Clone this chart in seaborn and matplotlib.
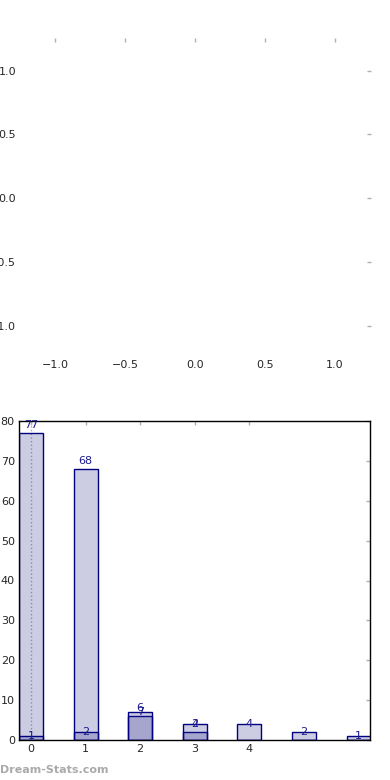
import numpy as np
import pandas as pd
import matplotlib
matplotlib.use("Agg")
import matplotlib.pyplot as plt
import matplotlib.colors as mcolors
import seaborn as sns

# data
categories = [0, 1, 2, 3, 4, 5, 6]
series_a = [77, 68, 6, 2, 0, 0, 0]
series_b = [1, 2, 7, 4, 4, 2, 1]
xtick_labels = ["0", "1", "2", "3", "4"]

sns.set_style("white")
plt.rcParams["font.family"] = ["DejaVu Sans"]

BAR_COLOR = "#2b2b8e"
EDGE = "#000080"
TEXT = "#1a1a8c"
TICK = "#b0b0b0"

fig = plt.figure(figsize=(3.9, 7.8), dpi=100)

# top panel: empty axes, no frame
ax1 = fig.add_axes([21 / 390, 1 - 355 / 780, 348 / 390, 315 / 780])
ax1.set_xlim(-1.243, 1.243)
ax1.set_ylim(-1.23, 1.24)
ax1.set_xticks([-1.0, -0.5, 0.0, 0.5, 1.0])
ax1.set_yticks([-1.0, -0.5, 0.0, 0.5, 1.0])
for s in ax1.spines.values():
    s.set_visible(False)
ax1.tick_params(axis="both", which="both", color=TICK, length=3, width=1,
                labelsize=8, top=True, right=True, direction="inout", pad=2)

# bottom panel: overlapping bars
ax2 = fig.add_axes([19 / 390, 1 - 740 / 780, 351 / 390, 319 / 780])
df = pd.DataFrame({"x": categories, "a": series_a, "b": series_b})
sns.barplot(data=df, x="x", y="a", width=0.44, color=BAR_COLOR,
            saturation=1, edgecolor=EDGE, linewidth=1, ax=ax2)
sns.barplot(data=df, x="x", y="b", width=0.44, color=BAR_COLOR,
            saturation=1, edgecolor=EDGE, linewidth=1, ax=ax2)
# translucent fill, solid edges
face = mcolors.to_rgba(BAR_COLOR, 0.24)
for p in ax2.patches:
    p.set_alpha(None)
    p.set_facecolor(face)
    p.set_edgecolor(EDGE)

ax2.axvline(0, color="#aaaaaa", linestyle=":", linewidth=1, zorder=0.5)

for i, (a, b) in enumerate(zip(series_a, series_b)):
    if a > 0:
        ax2.text(i, a + 2, str(a), ha="center", va="center", color=TEXT, fontsize=8)
    ax2.text(i, b, str(b), ha="center", va="center", color=TEXT, fontsize=8)

ax2.set_xlim(-0.22, 6.21)
ax2.set_ylim(0, 80)
ax2.set_xticks(range(len(xtick_labels)))
ax2.set_xticklabels(xtick_labels)
ax2.set_yticks(range(0, 81, 10))
ax2.set_xlabel("")
ax2.set_ylabel("")
for s in ax2.spines.values():
    s.set_visible(True)
    s.set_color("black")
    s.set_linewidth(1)
ax2.tick_params(axis="both", which="both", color=TICK, length=3, width=1,
                labelsize=8, top=True, right=True, direction="in", pad=3)

fig.text(0.0, 1 - 770 / 780, "Dream-Stats.com", color="#aaaaaa", fontsize=8,
         fontweight="bold", va="center", ha="left")

fig.savefig("out.png", dpi=100)
